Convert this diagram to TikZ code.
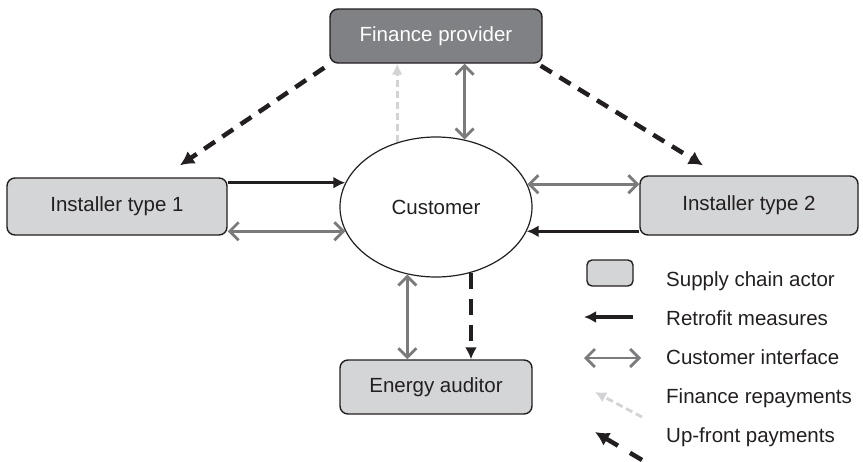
\documentclass[tikz,border=0pt]{standalone}
\usepackage{fontspec}
\setmainfont{Liberation Sans}
\usetikzlibrary{arrows.meta,shapes.geometric,calc}
\definecolor{boxfill}{HTML}{D4D5D7}
\definecolor{finfill}{HTML}{808185}
\definecolor{edge}{HTML}{231F20}
\definecolor{ifgrey}{HTML}{7B7B7D}
\definecolor{lightdash}{HTML}{D2D3D5}
\tikzset{
  actor/.style={draw=edge, line width=1.4pt, rounded corners=8pt, fill=boxfill, inner sep=0pt,
    font=\fontsize{20.5}{24}\selectfont, text=edge},
  finbox/.style={actor, fill=finfill, text=white},
  custnode/.style={draw=edge, line width=1.2pt, ellipse, fill=white, inner sep=0pt,
    font=\fontsize{20.5}{24}\selectfont, text=edge},
  legtext/.style={anchor=west, inner sep=0pt, font=\fontsize{20.5}{24}\selectfont, text=edge},
  retro/.style={draw=edge, line width=3.5pt, -{Latex[length=12pt,width=12pt]}},
  iface/.style={draw=ifgrey, line width=2.8pt, {Straight Barb[length=9pt,width=18pt,line width=2.8pt]}-{Straight Barb[length=9pt,width=18pt,line width=2.8pt]}},
  repay/.style={draw=lightdash, line width=2.8pt, dash pattern=on 7pt off 4pt, -{Latex[length=11pt,width=11pt]}},
  upfront/.style={draw=edge, line width=4.5pt, dash pattern=on 13pt off 9pt, -{Latex[length=14pt,width=15pt]}},
  upfrontv/.style={draw=edge, line width=4pt, dash pattern=on 16pt off 10pt, -{Latex[length=12pt,width=12pt]}},
}
\begin{document}
\begin{tikzpicture}[x=1pt,y=-1pt]
\useasboundingbox (0,0) rectangle (863,461);
% nodes
\node[finbox, minimum width=212pt, minimum height=54pt] (fin) at (436,36) {Finance provider};
\node[actor, minimum width=220pt, minimum height=57pt] (inst1) at (117,206.5) {Installer type 1};
\node[actor, minimum width=218pt, minimum height=59pt] (inst2) at (749,205.5) {Installer type 2};
\node[actor, minimum width=192pt, minimum height=54pt] (aud) at (436,387) {Energy auditor};
\node[custnode, minimum width=192pt, minimum height=140pt] (cust) at (436,207) {Customer};
% connectors
\draw[retro] (cust.165.8 -| inst1.east) -- (cust.165.8);
\draw[iface] (cust.195.6 -| inst1.east) -- (cust.195.6);
\draw[iface] (cust.14.9) -- (cust.14.9 -| inst2.west);
\draw[retro] (cust.345.8 -| inst2.west) -- (cust.345.8);
\draw[iface] (fin.south -| cust.67.3) -- (cust.67.3);
\draw[repay] (cust.121.4) -- (fin.south -| cust.121.4);
\draw[iface] (cust.247.3) -- (aud.north -| cust.247.3);
\draw[upfrontv] (cust.298.2) -- (aud.north -| cust.298.2);
\coordinate (l1s) at ($(fin.south west)+(-5,4)$);
\coordinate (l1e) at ($(inst1.north)+(63,-12)$);
\coordinate (r1s) at ($(fin.south east)+(-2,2)$);
\coordinate (r1e) at ($(inst2.north)+(-46,-10)$);
\draw[upfront] (l1s) -- (l1e);
\draw[upfront] (r1s) -- (r1e);
% legend
\node[actor, minimum width=46pt, minimum height=26pt, rounded corners=5pt] (legbox) at (610,273) {};
\node[legtext] (t1) at (666,281) {Supply chain actor};
\node[legtext] (t2) at (666,318) {Retrofit measures};
\node[legtext] (t3) at (666,357) {Customer interface};
\node[legtext] (t4) at (666,398) {Finance repayments};
\node[legtext] (t5) at (666,437) {Up-front payments};
\coordinate (a2s) at (633,317);
\coordinate (a2e) at (584,317);
\coordinate (a3s) at (584,358);
\coordinate (a3e) at (641,358);
\coordinate (a4s) at (642,417);
\coordinate (a4e) at (595,392);
\coordinate (a5s) at (642,460);
\coordinate (a5e) at (595,432);
\draw[retro] (a2s) -- (a2e);
\draw[iface] (a3s) -- (a3e);
\draw[repay] (a4s) -- (a4e);
\draw[upfront, dash pattern=on 14pt off 14pt] (a5s) -- (a5e);
\end{tikzpicture}
\end{document}
